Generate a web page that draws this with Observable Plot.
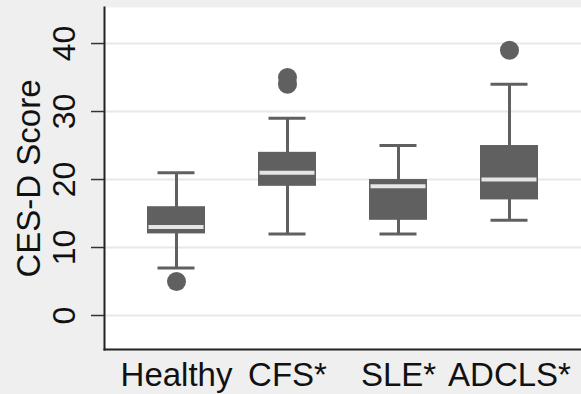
<!DOCTYPE html>
<html><head><meta charset="utf-8">
<script src="https://cdn.jsdelivr.net/npm/d3@7"></script>
<script src="https://cdn.jsdelivr.net/npm/@observablehq/plot@0.6"></script>
<style>body{margin:0;background:#efefef;}</style>
</head><body><div id="chart"></div>
<script>
const groups = ["Healthy", "CFS*", "SLE*", "ADCLS*"];
const lowerWhisker = [7, 12, 12, 14];
const q1 = [12, 19, 14, 17];
const median = [13, 21, 19, 20];
const q3 = [16, 24, 20, 25];
const upperWhisker = [21, 29, 25, 34];
const outlierGroups = ["Healthy", "CFS*", "CFS*", "ADCLS*"];
const outlierValues = [5, 34, 35, 39];
const yTicks = [0, 10, 20, 30, 40];
const yLabel = "CES-D Score";

const boxes = groups.map((g, i) => ({group: g, lo: lowerWhisker[i], q1: q1[i], med: median[i], q3: q3[i], hi: upperWhisker[i]}));
const outliers = outlierGroups.map((g, i) => ({group: g, value: outlierValues[i]}));

const W = 581, H = 394, ML = 104, MR = 0, tickLen = 13;
const gray = "#606060";
const chart = Plot.plot({
  width: W, height: H,
  marginTop: 7, marginBottom: 45, marginLeft: ML, marginRight: MR,
  style: {background: "#efefef", fontFamily: "'Liberation Sans', Arial, Helvetica, sans-serif", color: "#000"},
  x: {type: "band", domain: groups, paddingInner: 0.4775, paddingOuter: 0.387, label: null, axis: null},
  y: {domain: [-5, 45.3], label: null, axis: null},
  marks: [
    Plot.frame({fill: "white", stroke: null}),
    Plot.ruleY(yTicks, {stroke: "#e8e8e8", strokeWidth: 2}),
    Plot.ruleX(boxes, {x: "group", y1: "lo", y2: "hi", stroke: gray, strokeWidth: 3}),
    Plot.tickY(boxes, {x: "group", y: "lo", stroke: gray, strokeWidth: 3, insetLeft: 10.5, insetRight: 10.5}),
    Plot.tickY(boxes, {x: "group", y: "hi", stroke: gray, strokeWidth: 3, insetLeft: 10.5, insetRight: 10.5}),
    Plot.barY(boxes, {x: "group", y1: "q1", y2: "q3", fill: gray}),
    Plot.tickY(boxes, {x: "group", y: "med", stroke: "#e6e6e6", strokeWidth: 4, insetLeft: 1.5, insetRight: 1.5}),
    Plot.dot(outliers, {x: "group", y: "value", r: 9.5, fill: gray, stroke: null}),
    Plot.frame({anchor: "left", stroke: "#222", strokeWidth: 2}),
    Plot.frame({anchor: "bottom", stroke: "#222", strokeWidth: 2}),
    // y tick marks, drawn to the left of the axis line
    Plot.tickY(yTicks, {y: d => d, stroke: "#333", strokeWidth: 1.5, insetRight: (W - ML - MR) - tickLen, dx: -tickLen}),
    Plot.text(yTicks, {y: d => d, text: d => String(d), frameAnchor: "left", textAnchor: "middle", rotate: -90, dx: -40, fontSize: 32, lineAnchor: "middle", fill: "#111"}),
    Plot.text(groups, {x: d => d, text: d => d, frameAnchor: "bottom", lineAnchor: "top", dy: 13, fontSize: 33, fill: "#111"}),
    Plot.text([yLabel], {frameAnchor: "left", textAnchor: "middle", rotate: -90, dx: -75.5, fontSize: 33, lineAnchor: "middle", fill: "#111"})
  ]
});
document.getElementById("chart").appendChild(chart);
</script>
</body></html>
